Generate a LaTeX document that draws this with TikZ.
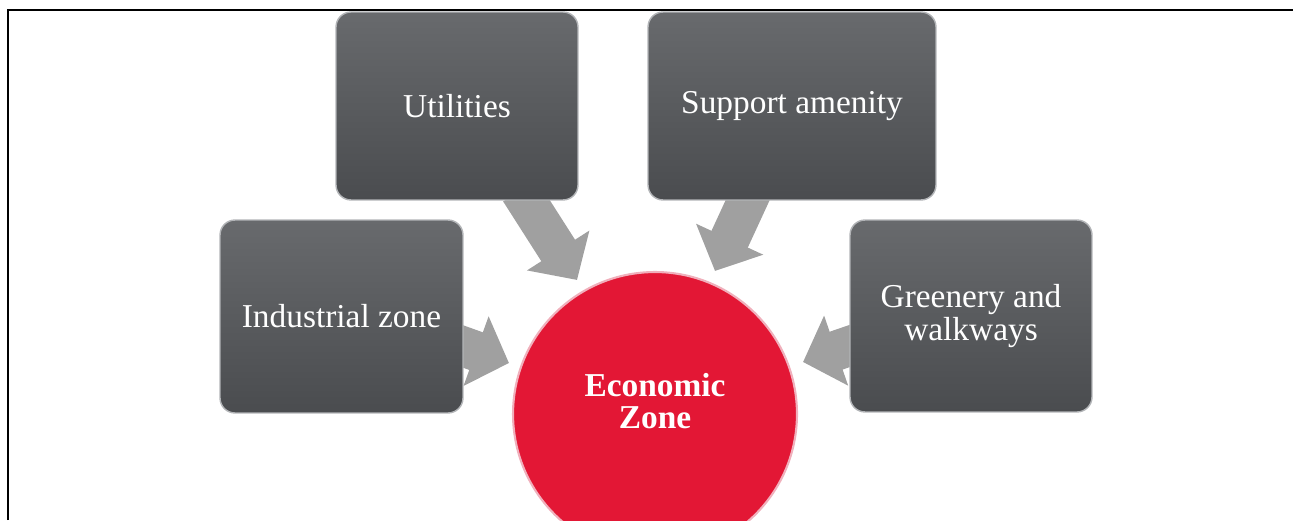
\documentclass[tikz,border=0pt]{standalone}
\usepackage{fontspec}
\setmainfont{Liberation Serif}
\usepackage{tikz}
\usetikzlibrary{arrows.meta,positioning,backgrounds}
\usepackage{xcolor}
\definecolor{boxtop}{RGB}{104,106,109}
\definecolor{boxbot}{RGB}{74,76,79}
\definecolor{boxrim}{RGB}{178,180,183}
\definecolor{ecored}{RGB}{227,23,53}
\definecolor{ecorim}{RGB}{240,176,188}
\definecolor{arrgray}{RGB}{160,160,160}

\begin{document}
\begin{tikzpicture}[
  x=0.02cm, y=-0.02cm,
  topic/.style={rectangle, rounded corners=0.3cm, top color=boxtop,
                bottom color=boxbot, draw=boxrim, line width=0.8pt,
                text=white, align=center, inner sep=0pt,
                font=\fontsize{19}{17}\selectfont},
  hub/.style={circle, fill=ecored, draw=ecorim, line width=1.2pt,
              minimum size=5.68cm, inner sep=0pt},
  hublabel/.style={text=white, align=center,
                   font=\bfseries\fontsize{19}{18.5}\selectfont},
  fatarr/.style={line width=0.8cm, draw=arrgray,
                 -{Triangle[length=0.7cm, width=1.44cm]}},
  frameline/.style={line width=1.1pt, draw=black}
]
  \useasboundingbox (0,0) rectangle (1293,520);
  \clip (0,0) rectangle (1293,520);

  % page frame
  \draw[frameline] (8,520) -- (8,10) -- (1293,10);

  % centre
  \node[hub] (eco) at (655,414) {};
  \node[hublabel] (ecotxt) at ([yshift=0.26cm]eco.center) {Economic\\Zone};

  % four feeding boxes
  \node[topic, minimum width=4.84cm, minimum height=3.76cm] (util)
       at (457,106) {Utilities};
  \node[topic, minimum width=5.76cm, minimum height=3.76cm] (supp)
       at (792,106) {Support amenity};
  \node[topic, minimum width=4.86cm, minimum height=3.86cm] (indus)
       at (341.5,316.5) {Industrial zone};
  \node[topic, minimum width=4.84cm, minimum height=3.84cm] (green)
       at (971,316) {Greenery and\\walkways};

  % block arrows into the centre
  \begin{scope}[on background layer]
    \draw[fatarr] ([xshift=1.26cm, yshift=0.2cm]util.south)
         -- ([xshift=-1.56cm, yshift=-0.18cm]eco.north);
    \draw[fatarr] ([xshift=-0.8cm, yshift=0.2cm]supp.south)
         -- ([xshift=1.2cm]eco.north);
    \draw[fatarr] ([xshift=-0.26cm, yshift=-0.51cm]indus.east)
         -- ([xshift=-0.06cm, yshift=1.02cm]eco.west);
    \draw[fatarr] ([xshift=0.24cm, yshift=-0.52cm]green.west)
         -- ([xshift=0.1cm, yshift=1.04cm]eco.east);
  \end{scope}
\end{tikzpicture}
\end{document}
